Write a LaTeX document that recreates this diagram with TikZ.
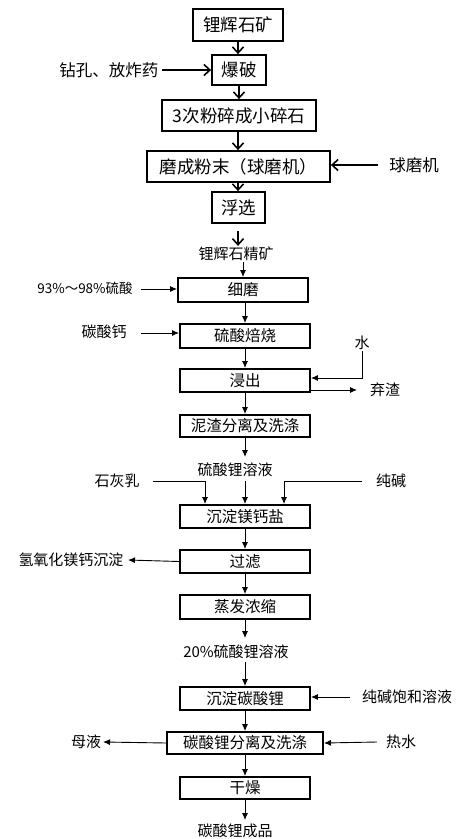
\documentclass[tikz,border=0pt]{standalone}
\usepackage{fontspec}
\setmainfont{Noto Sans CJK SC}
\usetikzlibrary{arrows.meta}
\tikzset{
  bigbox/.style={draw, line width=1.8pt, inner sep=0pt, font=\fontsize{17.5}{19}\selectfont},
  smallbox/.style={draw, line width=1.9pt, inner sep=0pt, minimum width=130pt, font=\fontsize{15.5}{17}\selectfont},
  biglbl/.style={inner sep=1pt, font=\fontsize{16.5}{18}\selectfont},
  lbl/.style={inner sep=1pt, font=\fontsize{15}{17}\selectfont},
  bigarr/.style={line width=1.7pt, -{Straight Barb[length=6pt,width=11pt,line width=1.6pt]}},
  thinarr/.style={line width=0.9pt, -{Latex[length=7pt,width=6pt]}},
  thinline/.style={line width=0.9pt}
}
\begin{document}
\begin{tikzpicture}[x=1pt,y=-1pt]
\useasboundingbox (0,0) rectangle (476,839);
\fill[white] (0,0) rectangle (476,839);
% top section
\node[bigbox, minimum width=90pt, minimum height=32pt] (n1) at (238,25) {锂辉石矿};
\node[bigbox, minimum width=54pt, minimum height=30pt] (n2) at (239,70) {爆破};
\node[bigbox, minimum width=154pt, minimum height=31pt] (n3) at (239,115.5) {3次粉碎成小碎石};
\node[bigbox, minimum width=183pt, minimum height=31pt] (n4) at (238.5,166.5) {磨成粉末（球磨机）};
\node[bigbox, minimum width=53pt, minimum height=31pt] (n5) at (238.5,207.5) {浮选};
\node[biglbl] (d1) at (109,70) {钻孔、放炸药};
\coordinate (d1e) at (162,70);
\node[biglbl] (d2) at (414,165) {球磨机};
\coordinate (d2s) at (378,165);
\node[lbl] (L1) at (236,254) {锂辉石精矿};
\coordinate (f1) at (238,231);
\draw[bigarr] (n1.south -| 238,0) -- (n2.north -| 238,0);
\draw[bigarr] (d1e) -- (n2.west);
\draw[bigarr] (n2.south) -- (n3.north -| n2.south);
\draw[bigarr] (n3.south -| 238,0) -- (n4.north -| 238,0);
\draw[bigarr] (d2s) -- (n4.east |- d2s);
\draw[bigarr] (n4.south -| 238,0) -- (n5.north -| 238,0);
\draw[bigarr] (f1) -- (L1.north -| f1);
% lower section
\node[smallbox, minimum height=24pt] (s1) at (243,290) {细磨};
\node[smallbox, minimum height=24pt] (s2) at (245,336) {硫酸焙烧};
\node[smallbox, minimum height=23pt] (s3) at (245,380.5) {浸出};
\node[smallbox, minimum height=22pt] (s4) at (245,426) {泥渣分离及洗涤};
\node[lbl] (L2) at (235,470) {硫酸锂溶液};
\node[smallbox, minimum height=23pt] (s5) at (245,516.5) {沉淀镁钙盐};
\node[smallbox, minimum height=23pt] (s6) at (245,561.5) {过滤};
\node[smallbox, minimum height=24pt] (s7) at (245,607) {蒸发浓缩};
\node[lbl] (L3) at (236,652) {20\%硫酸锂溶液};
\node[smallbox, minimum height=23pt] (s8) at (245,698.5) {沉淀碳酸锂};
\node[smallbox, minimum width=156pt, minimum height=22pt] (s9) at (245,743) {碳酸锂分离及洗涤};
\node[smallbox, minimum height=22pt] (s10) at (245,788) {干燥};
\node[lbl] (L4) at (235,831) {碳酸锂成品};
% side labels
\node[lbl, font=\fontsize{13.5}{15}\selectfont] (a1) at (85,288) {93\%～98\%硫酸};
\node[lbl] (a2) at (104,332) {碳酸钙};
\node[lbl] (a3) at (362,343) {水};
\node[lbl] (a4) at (385,390) {弃渣};
\node[lbl] (a5) at (117,481) {石灰乳};
\node[lbl] (a6) at (391,481) {纯碱};
\node[lbl] (a7) at (71,560) {氢氧化镁钙沉淀};
\node[lbl] (a8) at (407,697) {纯碱饱和溶液};
\node[lbl] (a9) at (86,742) {母液};
\node[lbl] (a10) at (401,742) {热水};
\coordinate (c1) at (141,289);
\coordinate (c2) at (141,333);
\coordinate (c3) at (362,378);
\coordinate (c4) at (357,390);
\coordinate (c5) at (153,481);
\coordinate (c6) at (205,481);
\coordinate (c7) at (362,481);
\coordinate (c8) at (284,481);
\coordinate (c9) at (245,481);
\coordinate (c10) at (128,560);
\coordinate (c11) at (350,697);
\coordinate (c12) at (103,742);
\coordinate (c13) at (377,742);
\coordinate (c14) at (245,457);
\coordinate (c15) at (245,638);
\coordinate (c16) at (245,662);
\coordinate (c17) at (245,820);
\draw[thinarr] (c1) -- (s1.west |- c1);
\draw[thinarr] (c2) -- (s2.west |- c2);
\draw[thinarr] (a3.south) -- (c3) -- (s3.east |- c3);
\draw[thinarr] (s3.east |- c4) -- (c4);
\draw[thinarr] (s1.south -| 245,0) -- (s2.north);
\draw[thinarr] (s2.south) -- (s3.north);
\draw[thinarr] (s3.south) -- (s4.north);
\draw[thinarr] (s4.south) -- (c14);
\draw[thinarr] (c5) -- (c6) -- (s5.north -| c6);
\draw[thinarr] (c7) -- (c8) -- (s5.north -| c8);
\draw[thinarr] (c9) -- (s5.north);
\draw[thinarr] (s5.south) -- (s6.north);
\draw[thinarr] (s6.west) -- (c10);
\draw[thinarr] (s6.south) -- (s7.north);
\draw[thinarr] (s7.south) -- (c15);
\draw[thinarr] (c16) -- (s8.north);
\draw[thinarr] (c11) -- (s8.east |- c11);
\draw[thinarr] (s8.south) -- (s9.north);
\draw[thinarr] (s9.west) -- (c12);
\draw[thinarr] (c13) -- (s9.east);
\draw[thinarr] (s9.south) -- (s10.north);
\draw[thinarr] (s10.south) -- (c17);
\draw[thinarr] (s1.north |- L1.south) -- (s1.north);
\end{tikzpicture}
\end{document}
